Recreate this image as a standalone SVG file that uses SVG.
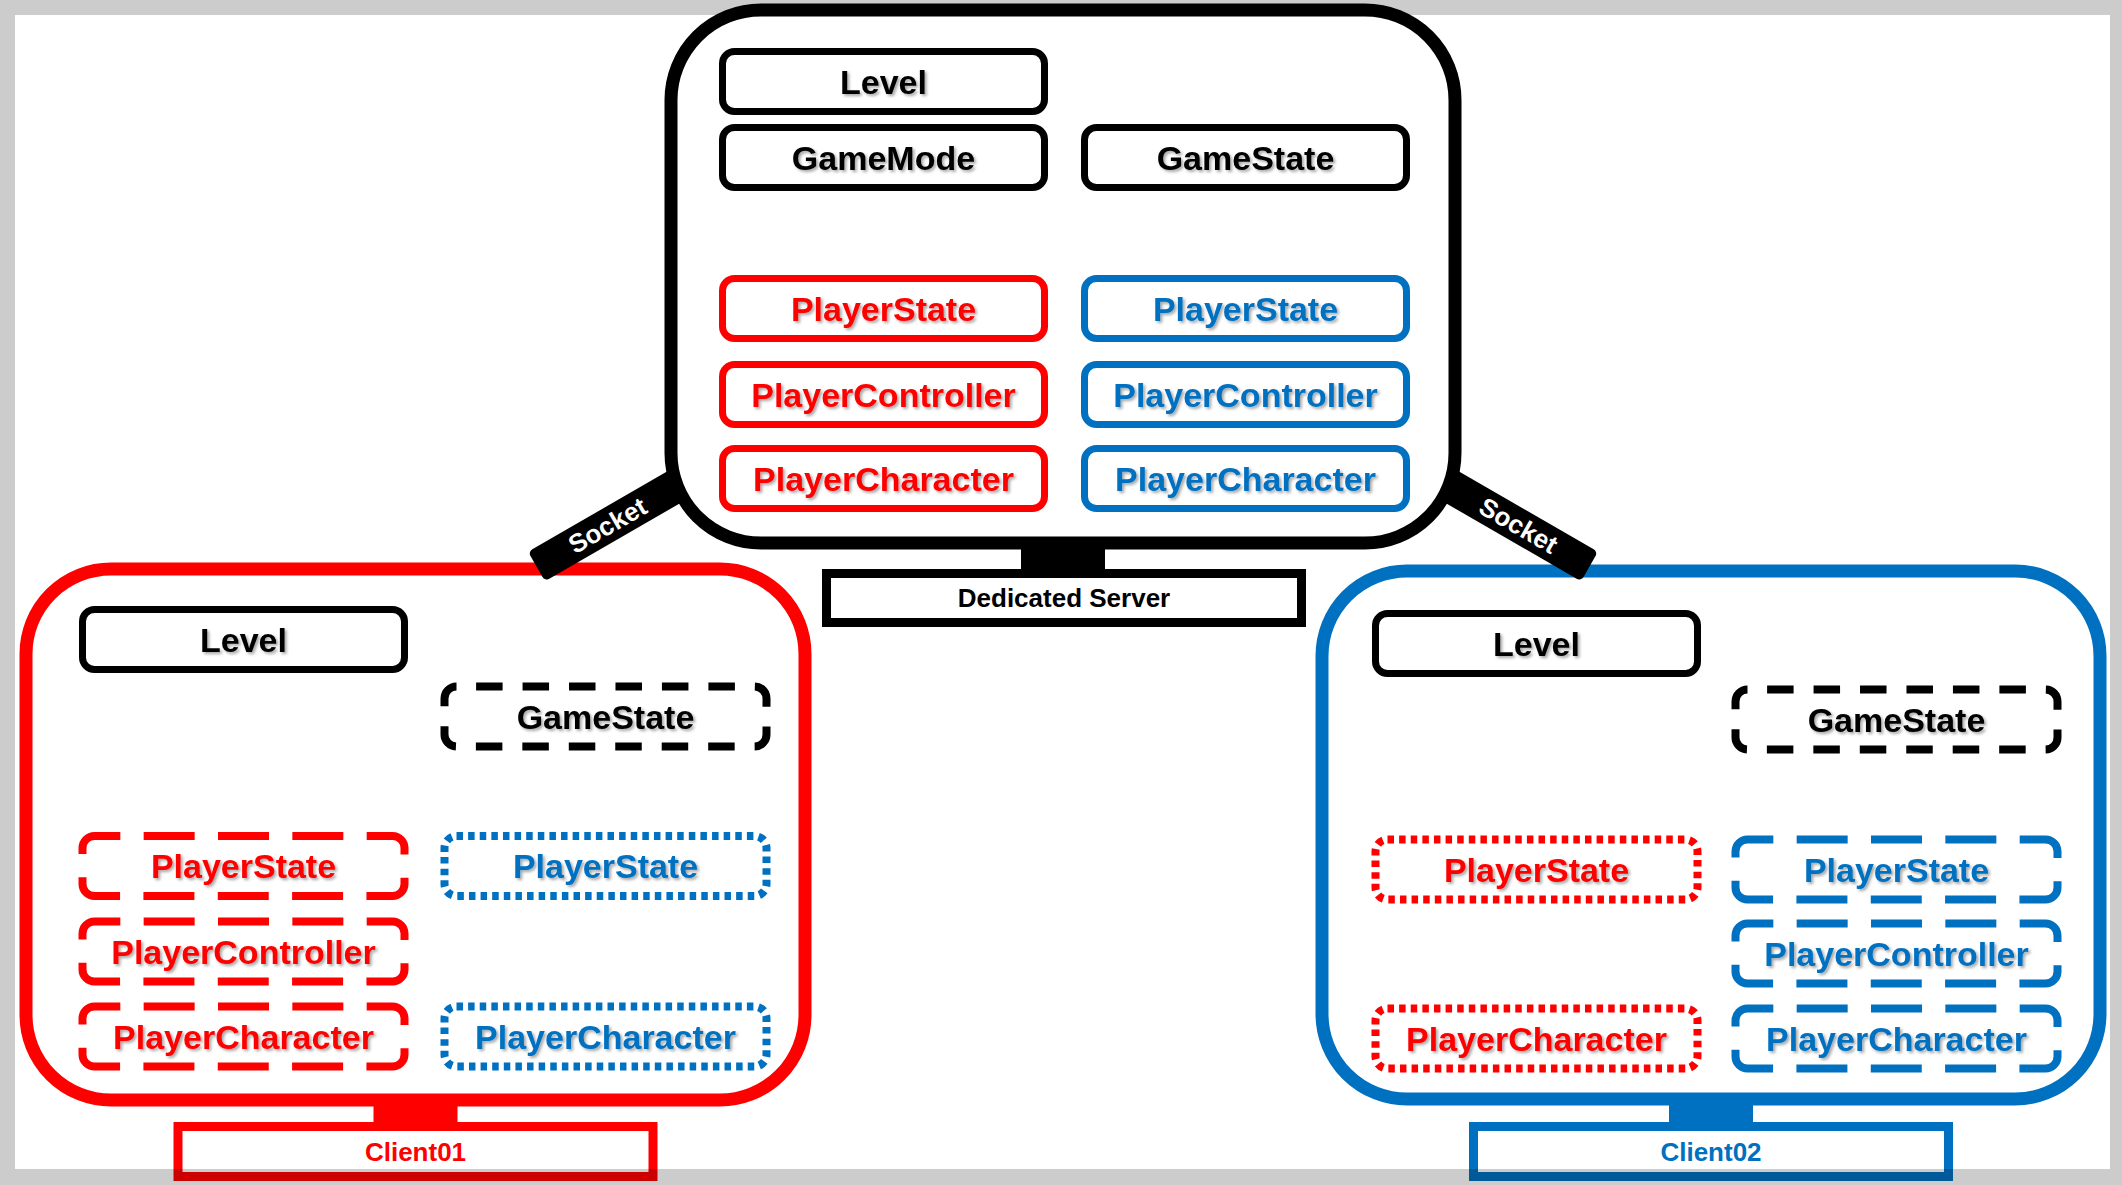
<svg xmlns="http://www.w3.org/2000/svg" width="2122" height="1185" viewBox="0 0 2122 1185">
<defs>
<filter id="sh" x="-10%" y="-30%" width="120%" height="160%">
<feDropShadow dx="2" dy="2" stdDeviation="1.5" flood-color="#000" flood-opacity="0.35"/>
</filter>
</defs>
<style>
.bx{fill:#fff;stroke-width:7}
.k{stroke:#000}.r{stroke:#ff0000}.b{stroke:#0070c0}
.ld{stroke-width:8;stroke-dasharray:51 23.34;stroke-dashoffset:25.18}
.kd{stroke-width:8;stroke-dasharray:26.5 19.96;stroke-dashoffset:26.86}
.dt{stroke-width:8;stroke-dasharray:6.5 5.116}
.t{font-family:"Liberation Sans",Arial,sans-serif;font-weight:bold;font-size:34px;text-anchor:middle;filter:url(#sh)}
.tk{fill:#000}.tr{fill:#ff0000}.tb{fill:#0070c0}
.lbl{fill:#fff;stroke-width:9}
.lt{font-family:"Liberation Sans",Arial,sans-serif;font-weight:bold;font-size:26px;text-anchor:middle}
.sock{font-family:"Liberation Sans",Arial,sans-serif;font-weight:bold;font-size:26px;text-anchor:middle;fill:#fff}
.frame{fill:none;stroke-width:13}
</style>
<rect x="0" y="0" width="2122" height="1185" fill="#fff"/>

<!-- Dedicated Server -->
<g id="server">
<rect class="frame k" x="671" y="10" width="784" height="533" rx="90"/>
<g id="srv-level"><rect class="bx k" x="722.5" y="51.5" width="322" height="60" rx="12"/><text class="t tk" x="883.5" y="93.5">Level</text></g>
<g id="srv-gamemode"><rect class="bx k" x="722.5" y="127.5" width="322" height="60" rx="12"/><text class="t tk" x="883.5" y="169.5">GameMode</text></g>
<g id="srv-gamestate"><rect class="bx k" x="1084.5" y="127.5" width="322" height="60" rx="12"/><text class="t tk" x="1245.5" y="169.5">GameState</text></g>
<g id="srv-ps-red"><rect class="bx r" x="722.5" y="278.5" width="322" height="60" rx="12"/><text class="t tr" x="883.5" y="320.5">PlayerState</text></g>
<g id="srv-pc-red"><rect class="bx r" x="722.5" y="364.5" width="322" height="60" rx="12"/><text class="t tr" x="883.5" y="406.5">PlayerController</text></g>
<g id="srv-pch-red"><rect class="bx r" x="722.5" y="448.5" width="322" height="60" rx="12"/><text class="t tr" x="883.5" y="490.5">PlayerCharacter</text></g>
<g id="srv-ps-blue"><rect class="bx b" x="1084.5" y="278.5" width="322" height="60" rx="12"/><text class="t tb" x="1245.5" y="320.5">PlayerState</text></g>
<g id="srv-pc-blue"><rect class="bx b" x="1084.5" y="364.5" width="322" height="60" rx="12"/><text class="t tb" x="1245.5" y="406.5">PlayerController</text></g>
<g id="srv-pch-blue"><rect class="bx b" x="1084.5" y="448.5" width="322" height="60" rx="12"/><text class="t tb" x="1245.5" y="490.5">PlayerCharacter</text></g>
</g>
<g id="server-label">
<rect class="lbl k" x="826.5" y="573.5" width="475" height="49"/>
<text class="lt tk" x="1064" y="607">Dedicated Server</text>
</g>

<!-- Client01 -->
<g id="client01">
<rect class="frame r" x="26" y="569" width="779" height="531" rx="85"/>
<g id="c1-level"><rect class="bx k" x="82.5" y="609.5" width="322" height="60" rx="12"/><text class="t tk" x="243.5" y="651.5">Level</text></g>
<g id="c1-gamestate"><rect class="bx k kd" x="444.5" y="686.5" width="322" height="60" rx="12"/><text class="t tk" x="605.5" y="728.5">GameState</text></g>
<g id="c1-ps-red"><rect class="bx r ld" x="82.5" y="836" width="322" height="60" rx="12"/><text class="t tr" x="243.5" y="878">PlayerState</text></g>
<g id="c1-pc-red"><rect class="bx r ld" x="82.5" y="921.5" width="322" height="60" rx="12"/><text class="t tr" x="243.5" y="963.5">PlayerController</text></g>
<g id="c1-pch-red"><rect class="bx r ld" x="82.5" y="1006.5" width="322" height="60" rx="12"/><text class="t tr" x="243.5" y="1048.5">PlayerCharacter</text></g>
<g id="c1-ps-blue"><rect class="bx b dt" x="444.5" y="836" width="322" height="60" rx="12"/><text class="t tb" x="605.5" y="878">PlayerState</text></g>
<g id="c1-pch-blue"><rect class="bx b dt" x="444.5" y="1006.5" width="322" height="60" rx="12"/><text class="t tb" x="605.5" y="1048.5">PlayerCharacter</text></g>
</g>
<g id="client01-label">
<rect class="lbl r" x="178" y="1126.5" width="475" height="50"/>
<text class="lt tr" x="415.5" y="1161">Client01</text>
</g>

<!-- Client02 -->
<g id="client02">
<rect class="frame b" x="1322" y="571" width="778" height="528" rx="85"/>
<g id="c2-level"><rect class="bx k" x="1375.5" y="613.5" width="322" height="60" rx="12"/><text class="t tk" x="1536.5" y="655.5">Level</text></g>
<g id="c2-gamestate"><rect class="bx k kd" x="1735.5" y="689.5" width="322" height="60" rx="12"/><text class="t tk" x="1896.5" y="731.5">GameState</text></g>
<g id="c2-ps-red"><rect class="bx r dt" x="1375.5" y="839.5" width="322" height="60" rx="12"/><text class="t tr" x="1536.5" y="881.5">PlayerState</text></g>
<g id="c2-pch-red"><rect class="bx r dt" x="1375.5" y="1008.5" width="322" height="60" rx="12"/><text class="t tr" x="1536.5" y="1050.5">PlayerCharacter</text></g>
<g id="c2-ps-blue"><rect class="bx b ld" x="1735.5" y="839.5" width="322" height="60" rx="12"/><text class="t tb" x="1896.5" y="881.5">PlayerState</text></g>
<g id="c2-pc-blue"><rect class="bx b ld" x="1735.5" y="923.5" width="322" height="60" rx="12"/><text class="t tb" x="1896.5" y="965.5">PlayerController</text></g>
<g id="c2-pch-blue"><rect class="bx b ld" x="1735.5" y="1008.5" width="322" height="60" rx="12"/><text class="t tb" x="1896.5" y="1050.5">PlayerCharacter</text></g>
</g>
<g id="client02-label">
<rect class="lbl b" x="1473.5" y="1126.5" width="475" height="50"/>
<text class="lt tb" x="1711" y="1161">Client02</text>
</g>

<!-- connectors -->
<g id="connectors">
<rect x="1021" y="540" width="84" height="32" fill="#000"/>
<rect x="373.5" y="1098" width="84" height="26" fill="#ff0000"/>
<rect x="1669" y="1098" width="84" height="26" fill="#0070c0"/>
<g transform="translate(607.5,525.5) rotate(-30)">
<rect x="-82" y="-17" width="164" height="34" rx="5" fill="#000"/>
<text class="sock" x="0" y="9">Socket</text>
</g>
<g transform="translate(1518.5,525.5) rotate(30)">
<rect x="-82" y="-17" width="164" height="34" rx="5" fill="#000"/>
<text class="sock" x="0" y="9">Socket</text>
</g>
</g>

<!-- grey frame of the screenshot -->
<path d="M0,0H2122V1185H0Z M15,15V1169H2110V15Z" fill="#000" fill-opacity="0.2" fill-rule="evenodd"/>
</svg>
